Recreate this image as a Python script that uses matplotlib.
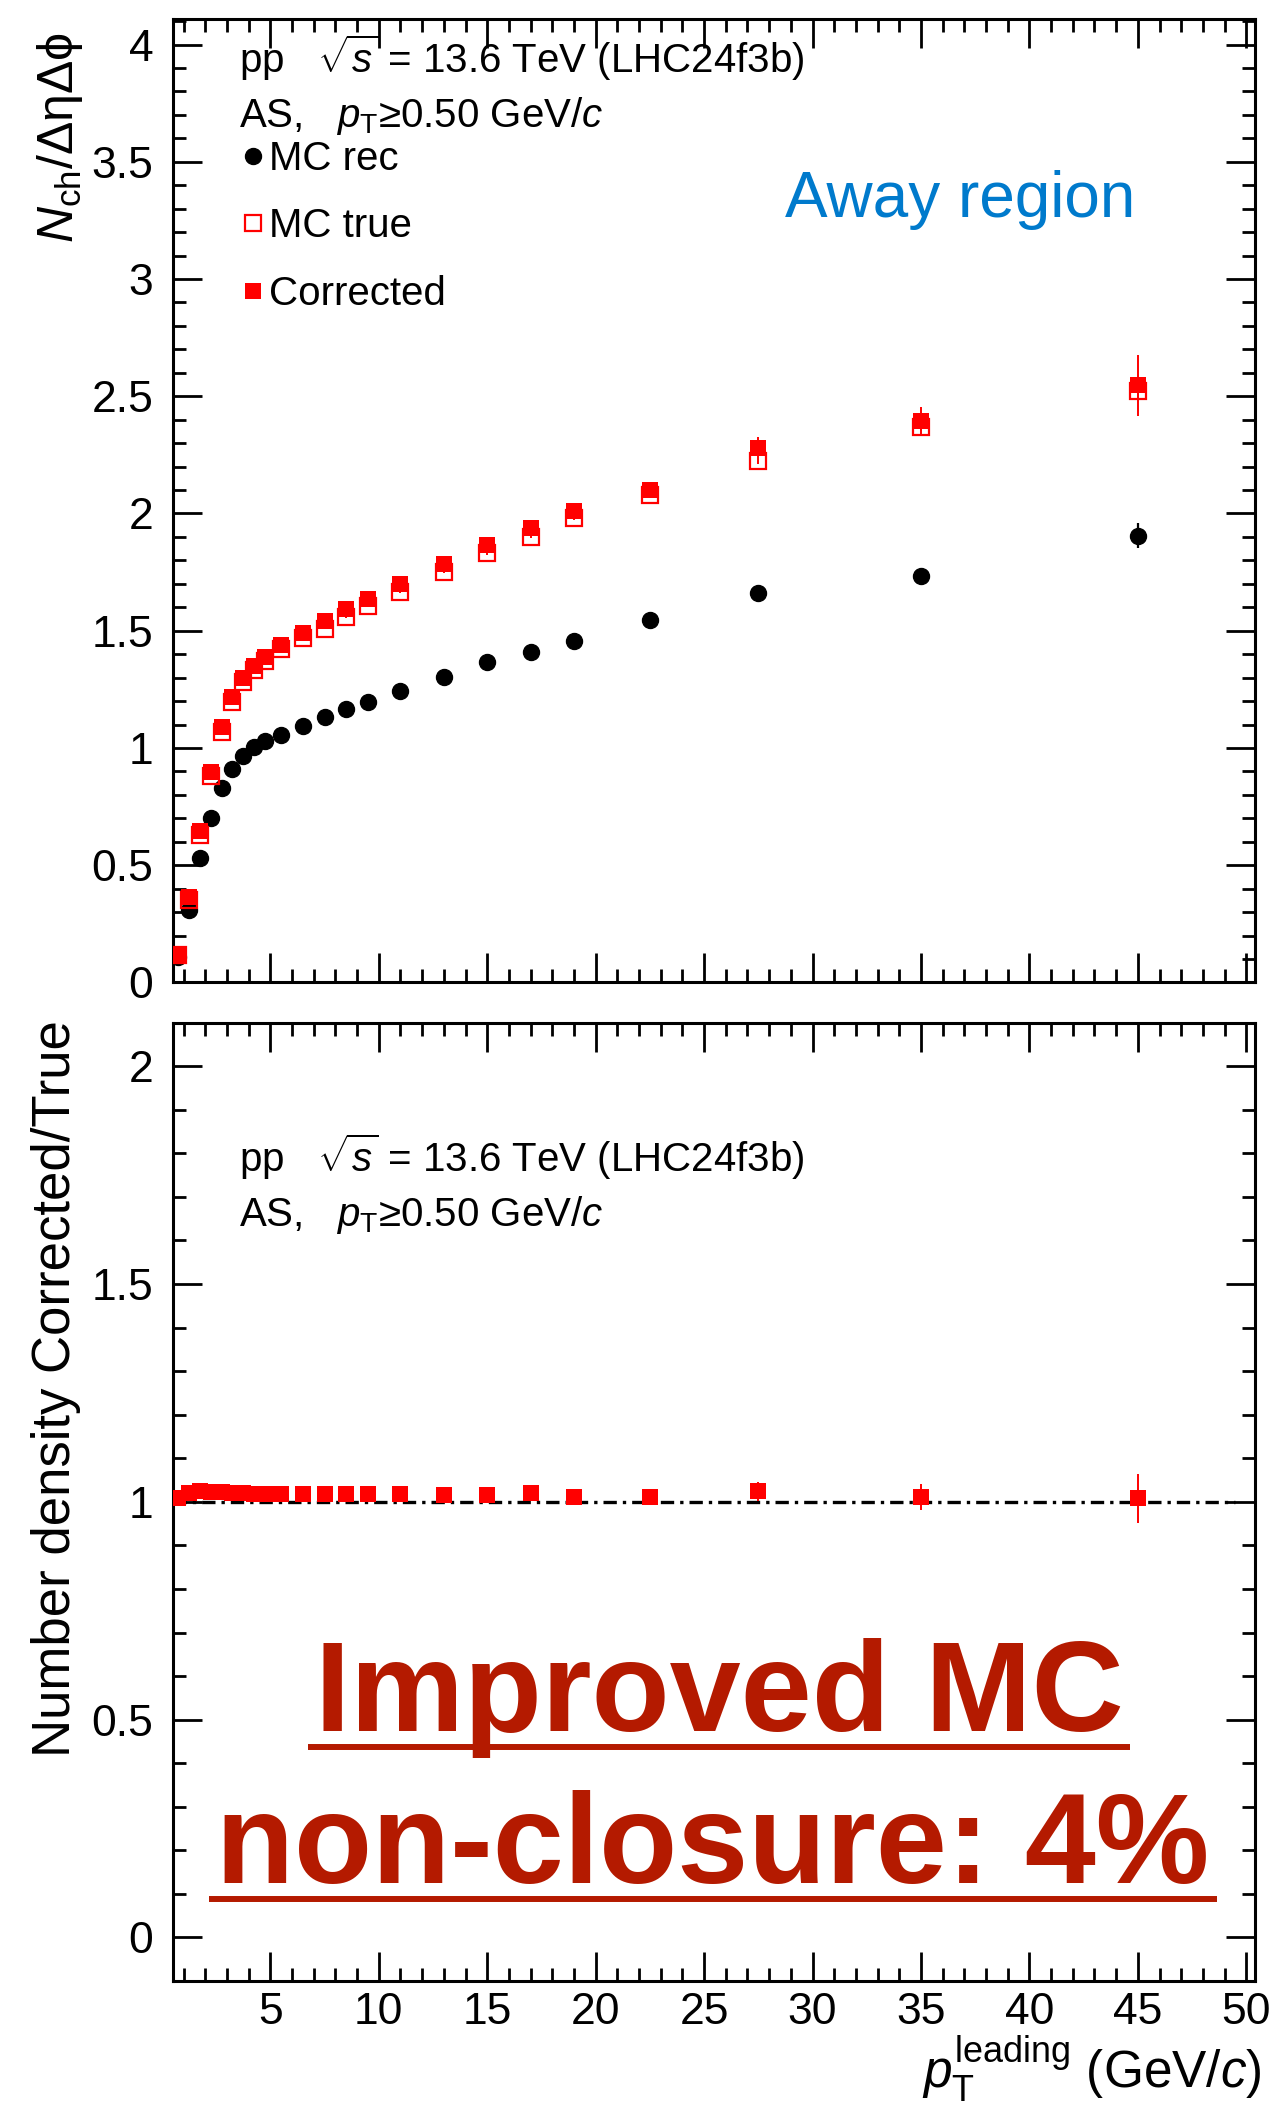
import matplotlib
matplotlib.use('Agg')
import matplotlib.pyplot as plt
from matplotlib.lines import Line2D
from matplotlib.ticker import MultipleLocator, FuncFormatter

plt.rcParams['font.family'] = ['Liberation Sans', 'DejaVu Sans']
plt.rcParams['mathtext.fontset'] = 'custom'
plt.rcParams['mathtext.rm'] = 'Liberation Sans'
plt.rcParams['mathtext.it'] = 'Liberation Sans:italic'
plt.rcParams['mathtext.bf'] = 'Liberation Sans:bold'
plt.rcParams['mathtext.sf'] = 'Liberation Sans'

# ---------------- data ----------------
pt_leading = [0.75, 1.25, 1.75, 2.25, 2.75, 3.25, 3.75, 4.25, 4.75, 5.5, 6.5, 7.5,
              8.5, 9.5, 11, 13, 15, 17, 19, 22.5, 27.5, 35, 45]

mc_rec = [0.11, 0.31, 0.53, 0.70, 0.83, 0.91, 0.966, 1.003, 1.03, 1.055, 1.092, 1.131,
          1.164, 1.195, 1.242, 1.304, 1.366, 1.411, 1.455, 1.546, 1.659, 1.733, 1.906]
mc_rec_err = [0.002, 0.002, 0.002, 0.002, 0.002, 0.002, 0.002, 0.003, 0.003, 0.003, 0.003, 0.003,
              0.004, 0.004, 0.004, 0.005, 0.006, 0.008, 0.009, 0.010, 0.016, 0.022, 0.052]

mc_true = [0.115, 0.351, 0.630, 0.882, 1.070, 1.198, 1.280, 1.334, 1.370, 1.421, 1.469, 1.509,
           1.559, 1.606, 1.666, 1.750, 1.830, 1.901, 1.981, 2.077, 2.222, 2.368, 2.524]
mc_true_err = [0.001, 0.001, 0.001, 0.002, 0.002, 0.002, 0.002, 0.002, 0.002, 0.002, 0.003, 0.003,
               0.003, 0.003, 0.004, 0.004, 0.005, 0.006, 0.007, 0.008, 0.012, 0.016, 0.030]

corrected = [0.117, 0.363, 0.644, 0.896, 1.088, 1.216, 1.299, 1.351, 1.387, 1.441, 1.489, 1.543,
             1.593, 1.636, 1.700, 1.786, 1.864, 1.939, 2.010, 2.099, 2.278, 2.395, 2.547]
corrected_err = [0.003, 0.004, 0.005, 0.006, 0.006, 0.007, 0.007, 0.008, 0.008, 0.008, 0.009, 0.010,
                 0.011, 0.012, 0.012, 0.014, 0.016, 0.019, 0.022, 0.020, 0.047, 0.060, 0.131]

ratio = [1.009, 1.020, 1.024, 1.023, 1.022, 1.021, 1.020, 1.019, 1.019, 1.019, 1.019, 1.017,
         1.019, 1.019, 1.019, 1.016, 1.016, 1.021, 1.011, 1.011, 1.024, 1.011, 1.008]
ratio_err = [0.002, 0.002, 0.002, 0.002, 0.002, 0.002, 0.002, 0.002, 0.002, 0.002, 0.002, 0.003,
             0.003, 0.003, 0.003, 0.004, 0.005, 0.006, 0.008, 0.010, 0.022, 0.029, 0.056]

labels = ['MC rec', 'MC true', 'Corrected']

# ---------------- layout ----------------
W, H = 1271, 2104
fig = plt.figure(figsize=(W / 100, H / 100), dpi=100)


def fx(px):
    return px / W


def fy(py):
    return 1 - py / H


L, R = 172.7, 1255
ax1 = fig.add_axes([fx(L), fy(982.4), fx(R) - fx(L), fy(18.8) - fy(982.4)])
ax2 = fig.add_axes([fx(L), fy(1981), fx(R) - fx(L), fy(1022.7) - fy(1981)])

fmt = FuncFormatter(lambda v, p: f'{round(v, 3) + 0.0:g}')


def style(ax):
    for s in ax.spines.values():
        s.set_linewidth(2.2)
    ax.xaxis.set_major_locator(MultipleLocator(5))
    ax.xaxis.set_minor_locator(MultipleLocator(1))
    ax.yaxis.set_major_locator(MultipleLocator(0.5))
    ax.yaxis.set_minor_locator(MultipleLocator(0.1))
    ax.tick_params(which='both', direction='in', top=True, right=True, width=2.0)
    ax.tick_params(which='major', length=21)
    ax.tick_params(which='minor', length=9.7)
    ax.tick_params(axis='y', labelsize=32, pad=14)
    ax.tick_params(axis='x', labelsize=32, pad=8)
    ax.yaxis.set_major_formatter(fmt)
    ax.xaxis.set_major_formatter(fmt)


style(ax1)
style(ax2)
ax1.set_xlim(0.5, 50.4)
ax1.set_ylim(0, 4.11)
ax2.set_xlim(0.5, 50.4)
ax2.set_ylim(-0.1, 2.1)
ax1.tick_params(labelbottom=False)

ms = 11.5
red = '#FF0000'
ax1.errorbar(pt_leading, mc_rec, yerr=mc_rec_err, fmt='o', color='black', ms=ms,
             elinewidth=1.6, capsize=0, zorder=3)
ax1.errorbar(pt_leading, mc_true, yerr=mc_true_err, fmt='s', mfc='none', mec=red, mew=1.6,
             ecolor=red, ms=ms, elinewidth=1.4, capsize=0, zorder=4)
ax1.errorbar(pt_leading, corrected, yerr=corrected_err, fmt='s', color=red, mew=0, ms=ms,
             elinewidth=1.4, capsize=0, zorder=5)

handles = [Line2D([], [], marker='o', color='black', ls='none', ms=ms),
           Line2D([], [], marker='s', mfc='none', mec=red, mew=1.6, ls='none', ms=ms),
           Line2D([], [], marker='s', color=red, mew=0, ls='none', ms=ms)]
ax1.legend(handles, labels, loc='upper left', bbox_to_anchor=(fx(241), fy(140)),
           bbox_transform=fig.transFigure, frameon=False, fontsize=29, borderpad=0,
           borderaxespad=0, handlelength=0.6, handletextpad=0.1, labelspacing=0.73)

ax2.hlines(1, 0.5, 49.5, colors='black', linestyles=(0, (4, 1.8, 1, 1.8)), lw=2.4, zorder=2)
ax2.errorbar(pt_leading, ratio, yerr=ratio_err, fmt='s', color=red, mew=0, ms=ms,
             elinewidth=1.4, capsize=0, zorder=3)

# ---------------- texts ----------------
hdr1 = r'pp   $\sqrt{s}$ = 13.6 TeV (LHC24f3b)'
hdr2 = r'AS,   $p_{\rm T}$≥0.50 GeV/$c$'
for b1 in (73, 1172):
    fig.text(fx(239), fy(b1), hdr1, fontsize=29, ha='left', va='baseline')
    fig.text(fx(239), fy(b1 + 54), hdr2, fontsize=29, ha='left', va='baseline')

fig.text(fx(785), fy(217), 'Away region', color='#007ACC', fontsize=46,
         ha='left', va='baseline')

fig.text(fx(60), fy(32), r'$N_{\rm ch}/\Delta\mathrm{\eta}\Delta\mathrm{\phi}$',
         rotation=90, ha='center', va='top', fontsize=36)
fig.text(fx(56), fy(1020), 'Number density Corrected/True', rotation=90,
         ha='center', va='top', fontsize=38)
fig.text(fx(1262), fy(2088), r'$p_{\rm T}^{\rm leading}$ (GeV/$c$)', ha='right',
         va='baseline', fontsize=37)

dark = '#B41A00'
t1 = fig.text(fx(719), fy(1731), 'Improved MC', color=dark, fontsize=92,
              fontweight='bold', ha='center', va='baseline')
t2 = fig.text(fx(713), fy(1883), 'non-closure: 4%', color=dark, fontsize=92,
              fontweight='bold', ha='center', va='baseline')

fig.canvas.draw()
rend = fig.canvas.get_renderer()
for t, base in ((t1, 1731), (t2, 1883)):
    bb = t.get_window_extent(rend)
    yl = fy(base + 16)
    fig.add_artist(Line2D([(bb.x0 - 7) / W, (bb.x1 + 7) / W], [yl, yl], color=dark,
                          lw=4.3, transform=fig.transFigure, solid_capstyle='butt'))

fig.savefig('out.png', dpi=100)
